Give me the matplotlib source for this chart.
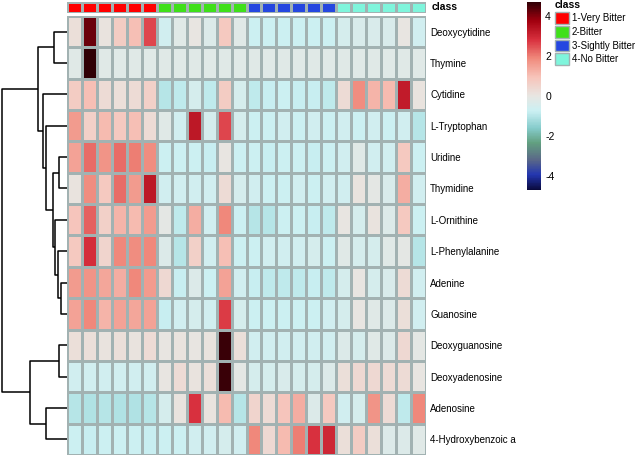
import numpy as np
import matplotlib
matplotlib.use('Agg')
import matplotlib.pyplot as plt
from matplotlib.colors import LinearSegmentedColormap, ListedColormap
from matplotlib.patches import Patch

plt.rcParams['font.family'] = ['Liberation Sans', 'DejaVu Sans']
plt.rcParams['axes.unicode_minus'] = False

# Compostos (linhas) na ordem do dendrograma
compostos = ['Deoxycytidine', 'Thymine', 'Cytidine', 'L-Tryptophan', 'Uridine',
             'Thymidine', 'L-Ornithine', 'L-Phenylalanine', 'Adenine', 'Guanosine',
             'Deoxyguanosine', 'Deoxyadenosine', 'Adenosine', '4-Hydroxybenzoic a']

# Classes das amostras (colunas)
classes = ['1-Very Bitter', '2-Bitter', '3-Sightly Bitter', '4-No Bitter']
cores_classes = ['#ff0000', '#3fe01a', '#2547e0', '#7ff5dc']
amostras_por_classe = [6, 6, 6, 6]

# Valores (z-score)
valores = np.array([
    [0.2, 4.2, 0.1, 0.7, 1.0, 2.6, -0.6, -0.2, 0.0, -0.3, 0.8, -0.2, -0.7, -0.7, -0.7, -0.7, -0.7, -0.7, -0.5, -0.4, -0.4, -0.4, 0.0, -0.6],
    [-0.2, 4.7, -0.2, -0.2, -0.2, -0.2, -0.2, -0.2, -0.2, -0.2, -0.2, -0.2, -0.2, -0.2, -0.2, -0.2, -0.2, -0.2, -0.2, -0.2, -0.2, -0.2, -0.2, -0.2],
    [0.7, 1.0, 0.3, 0.2, 0.3, 0.6, -1.0, -0.9, -0.5, -0.9, 0.7, -0.5, -0.9, -0.8, -0.7, -0.8, -0.8, -0.9, 0.3, 1.8, 1.2, 1.1, 3.2, 0.1],
    [1.6, 0.6, 1.1, 0.8, 1.0, 0.3, -0.2, -0.6, 3.3, -0.5, 2.6, -0.5, -0.7, -0.7, -0.6, -0.7, -0.6, -0.7, -0.6, -0.7, -0.6, -0.7, -0.6, -1.0],
    [1.5, 2.2, 1.7, 2.2, 2.0, 1.8, -0.7, -0.7, -0.7, -0.8, 0.0, -0.7, -0.7, -0.8, -0.7, -0.7, -0.8, -0.7, -0.6, -0.2, -0.6, -0.6, 0.8, -0.7],
    [0.1, 1.8, 0.8, 2.2, 1.6, 3.3, -0.6, -0.6, -0.6, -0.6, 0.3, -0.5, -0.6, -0.7, -0.7, -0.6, -0.7, -0.6, -0.6, 0.1, -0.1, -0.4, 1.3, -0.6],
    [0.9, 2.3, 0.6, 1.2, 1.1, 1.6, -0.1, -0.9, 1.3, -0.6, 1.9, -0.7, -1.0, -1.0, -0.7, -0.7, -0.8, -0.9, 0.0, -0.5, 0.1, -0.3, 0.8, -0.7],
    [0.8, 2.9, 0.5, 1.9, 1.8, 1.9, -0.3, -1.0, 0.6, -0.6, 1.0, -0.7, -0.7, -0.6, -0.6, -0.6, -0.5, -0.7, -0.2, -0.5, -0.5, -0.2, -0.1, -1.0],
    [1.6, 1.7, 1.4, 1.3, 1.9, 1.6, 0.4, -0.8, -0.3, -0.7, 1.5, -0.6, -0.8, -0.9, -0.9, -0.9, -0.8, -0.9, -0.5, 0.0, -0.5, -0.4, 0.3, -0.6],
    [1.5, 1.9, 1.2, 1.5, 1.4, 1.5, -0.8, -0.6, -0.5, -0.6, 2.7, -0.5, -0.7, -0.7, -0.7, -0.7, -0.7, -0.6, -0.5, 0.0, -0.2, -0.3, 0.2, -0.6],
    [0.2, 0.2, 0.1, 0.2, 0.1, 0.3, 0.0, 0.1, 0.0, 0.1, 4.6, 0.2, -0.6, -0.6, -0.6, -0.6, -0.6, -0.6, -0.3, -0.5, -0.2, -0.3, 0.4, -0.1],
    [-0.6, -0.6, -0.6, -0.6, -0.6, -0.6, 0.0, 0.3, 0.1, 0.2, 4.6, -0.1, -0.5, -0.5, -0.4, -0.5, -0.5, -0.3, 0.2, 0.4, 0.4, 0.3, 0.3, 0.0],
    [-1.0, -1.1, -1.0, -1.1, -1.1, -1.0, -0.5, 0.1, 2.8, 0.1, 1.1, -1.0, 0.5, 0.3, 0.9, 1.3, -0.3, 0.8, -0.6, -0.5, 1.7, 0.3, -0.9, 1.9],
    [-0.7, -0.8, -0.7, -0.7, -0.7, -0.8, -0.7, -0.7, -0.6, -0.6, -0.5, -0.6, 1.9, 0.4, 1.1, 2.0, 2.8, 3.0, 0.2, 0.7, 0.2, -0.3, -0.3, -0.2],
])

# Dendrograma: (filho esquerdo, filho direito, altura); ids >= 14 são clusters
fusoes = [
    (0, 1, 13),     # 14
    (4, 5, 8),      # 15
    (8, 9, 6),      # 16
    (7, 16, 9),     # 17
    (6, 17, 12),    # 18
    (15, 18, 14),   # 19
    (3, 19, 21),    # 20
    (2, 20, 24),    # 21
    (14, 21, 29),   # 22
    (10, 11, 8),    # 23
    (12, 13, 21),   # 24
    (23, 24, 37),   # 25
    (22, 25, 65),   # 26
]

# Mapa de cores parecido com o original
cmap = LinearSegmentedColormap.from_list('amargor', [
    (0.00, '#0a0a3c'), (0.08, '#2336b0'), (0.16, '#5a6888'),
    (0.25, '#62a080'), (0.33, '#86cccc'), (0.42, '#cbf0f3'),
    (0.50, '#e8e6e2'), (0.60, '#f7c4ba'), (0.70, '#f08a7c'),
    (0.80, '#d8303e'), (0.90, '#a2000f'), (1.00, '#300006'),
])
vmin, vmax = -4.7, 4.7
borda = '#a2b2b2'

W, H = 640, 461
fig = plt.figure(figsize=(W / 100, H / 100), dpi=100)

def eixo(x0, y0, x1, y1):
    return fig.add_axes([x0 / W, 1 - y1 / H, (x1 - x0) / W, (y1 - y0) / H])

n_lin, n_col = valores.shape

# Heatmap
ax = eixo(67, 16, 426, 455)
ax.pcolormesh(np.arange(n_col + 1), np.arange(n_lin + 1), valores, cmap=cmap,
              vmin=vmin, vmax=vmax, edgecolors=borda, linewidth=0.9)
ax.set_xlim(0, n_col)
ax.set_ylim(n_lin, 0)
ax.set_xticks([])
ax.yaxis.tick_right()
ax.set_yticks(np.arange(n_lin) + 0.5)
ax.set_yticklabels(compostos, fontsize=7)
ax.tick_params(axis='y', length=0, pad=3)
for s in ax.spines.values():
    s.set_visible(False)

# Barra de classes
axc = eixo(67, 2, 426, 13)
idx_classe = np.repeat(np.arange(len(classes)), amostras_por_classe)
axc.pcolormesh(np.arange(n_col + 1), [0, 1], idx_classe[None, :],
               cmap=ListedColormap(cores_classes), vmin=-0.5, vmax=len(classes) - 0.5,
               edgecolors=borda, linewidth=0.9)
axc.set_xlim(0, n_col)
axc.set_xticks([])
axc.set_yticks([])
for s in axc.spines.values():
    s.set_visible(False)
axc.text(1.015, 0.5, 'class', transform=axc.transAxes, fontsize=7.5,
         fontweight='bold', va='center', ha='left')

# Dendrograma das linhas
axd = eixo(0, 16, 67, 455)
pos = {i: i + 0.5 for i in range(n_lin)}
alt = {i: 0.0 for i in range(n_lin)}
for k, (a, b, h) in enumerate(fusoes):
    ya, yb = pos[a], pos[b]
    axd.plot([alt[a], h, h, alt[b]], [ya, ya, yb, yb], color='black', lw=1.1,
             solid_capstyle='butt')
    pos[n_lin + k] = (ya + yb) / 2
    alt[n_lin + k] = h
altura_max = max(f[2] for f in fusoes)
axd.set_xlim(altura_max + 1.5, 0)
axd.set_ylim(n_lin, 0)
axd.axis('off')

# Barra de cores
axcb = eixo(527, 2, 541, 190)
sm = plt.cm.ScalarMappable(cmap=cmap, norm=plt.Normalize(vmin, vmax))
cb = fig.colorbar(sm, cax=axcb, ticks=[-4, -2, 0, 2, 4])
cb.outline.set_visible(False)
cb.ax.tick_params(length=0, labelsize=7.5, pad=3)

# Legenda das classes
fig.legend(handles=[Patch(facecolor=c, edgecolor=borda, label=l)
                    for c, l in zip(cores_classes, classes)],
           title='class', loc='upper left', bbox_to_anchor=(555 / W, 1 - 0 / H),
           frameon=False, fontsize=7, title_fontproperties={'weight': 'bold', 'size': 7.5},
           handlelength=1.4, handleheight=1.5, handletextpad=0.3, labelspacing=0.2,
           borderaxespad=0, borderpad=0, alignment='left')

fig.savefig('out.png', dpi=100)
